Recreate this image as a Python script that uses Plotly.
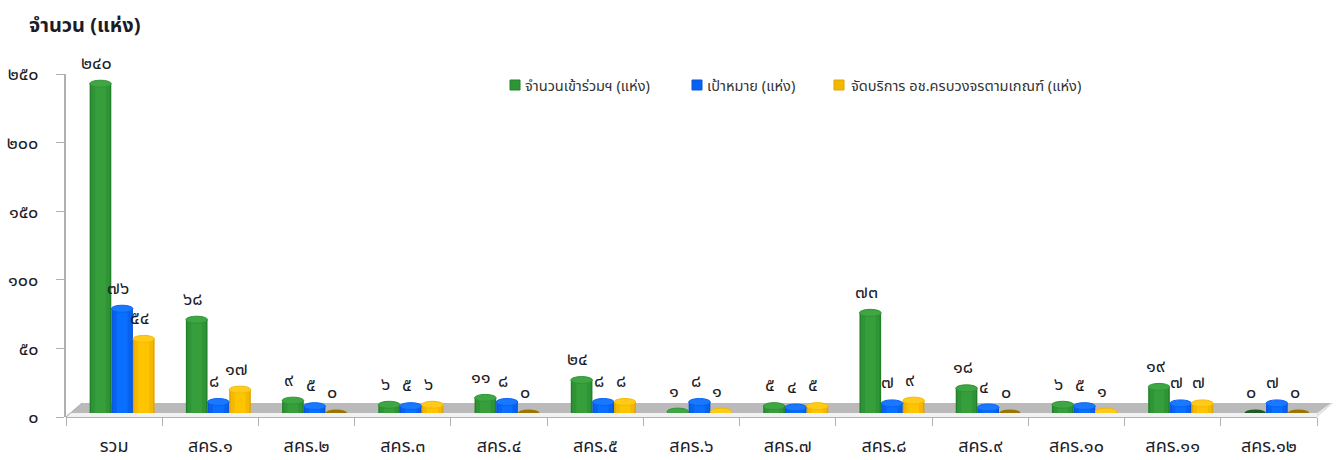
import plotly.graph_objects as go

categories = ["รวม", "สคร.๑", "สคร.๒", "สคร.๓", "สคร.๔", "สคร.๕", "สคร.๖",
              "สคร.๗", "สคร.๘", "สคร.๙", "สคร.๑๐", "สคร.๑๑", "สคร.๑๒"]
joined = [240, 68, 9, 6, 11, 24, 1, 5, 73, 18, 6, 19, 0]
target = [76, 8, 5, 5, 8, 8, 8, 4, 7, 4, 5, 7, 7]
served = [54, 17, 0, 6, 0, 8, 1, 5, 9, 0, 1, 7, 0]
names = ["จำนวนเข้าร่วมฯ (แห่ง)", "เป้าหมาย (แห่ง)", "จัดบริการ อช.ครบวงจรตามเกณฑ์ (แห่ง)"]
y_ticks = [0, 50, 100, 150, 200, 250]
y_labels = ["๐", "๕๐", "๑๐๐", "๑๕๐", "๒๐๐", "๒๕๐"]
thai_digits = "๐๑๒๓๔๕๖๗๘๙"

W, H = 1340, 460
FONT = "Noto Sans, Noto Sans Thai, Tahoma, DejaVu Sans, sans-serif"
TEXT = "#1c1c28"
palette = [
    {"edge": "#23802a", "mid": "#2f9435", "core": "#369e3a", "top": "#3fa644", "flat": "#1d5c22"},
    {"edge": "#0a55d8", "mid": "#0563f0", "core": "#0a6eff", "top": "#1a78ff", "flat": "#0a3f9e"},
    {"edge": "#e0a400", "mid": "#f5b800", "core": "#ffc400", "top": "#ffcb1a", "flat": "#9a7600"},
]
series = [joined, target, served]
BAR = 0.225  # category units
DX, DY = 8, 4  # depth offset in px
LEGEND_MARK = [510, 692, 834]
LEGEND_TEXT = [523, 705, 849]
LEGEND_Y = 85


def th(n):
    return "".join(thai_digits[int(c)] for c in str(n))


def px(x):
    return x / W


def py(y):
    return 1 - y / H


x_dom = [px(66), px(1317)]
y_dom = [py(417), py(74)]
x2_dom = [px(66 + DX), px(1317 + DX)]
y2_dom = [py(417 - DY), py(74 - DY)]

fig = go.Figure()
xs = list(range(len(categories)))
shapes = []
annotations = []

# axis carrier on the front plane
fig.add_trace(go.Scatter(x=categories, y=[0] * len(categories), mode="markers",
                         marker=dict(opacity=0), showlegend=False, hoverinfo="skip",
                         xaxis="x", yaxis="y"))

# floor of the 3D plot
floor = [
    ("M66,417 L1317,417 L1333,403 L82,403 Z", "#bababa"),
    ("M66,413 L1317,413 L1317,417 L66,417 Z", "#f2f2f2"),
    ("M1317,413 L1331,403 L1333,403 L1317,417 Z", "#e6e6e6"),
]
for path, col in floor:
    pts = path.replace("M", "").replace("Z", "").split("L")
    conv = []
    for p in pts:
        a, b = p.strip().split(",")
        conv.append(f"{px(float(a)):.5f},{py(float(b)):.5f}")
    shapes.append(dict(type="path", xref="paper", yref="paper", layer="below",
                       path="M" + " L".join(conv) + " Z", fillcolor=col, line_width=0))
shapes.append(dict(type="line", xref="paper", yref="paper", layer="below",
                   x0=px(66), x1=px(82), y0=py(417), y1=py(403),
                   line=dict(color="#a8a8a8", width=1)))
shapes.append(dict(type="line", xref="paper", yref="paper", layer="below",
                   x0=px(66), x1=px(1317), y0=py(417.5), y1=py(417.5),
                   line=dict(color="#b0b0b0", width=1)))

for s, vals in enumerate(series):
    center = (s - 1) * BAR
    pal = palette[s]
    for frac, key in [(1.0, "edge"), (0.86, "mid"), (0.5, "core")]:
        fig.add_trace(go.Bar(
            x=xs, y=vals, name=names[s], width=BAR * frac, offset=center - BAR * frac / 2,
            marker=dict(color=pal[key], line_width=0), showlegend=False, hoverinfo="skip",
            xaxis="x2", yaxis="y2"))
    for x, v in zip(xs, vals):
        shapes.append(dict(type="circle", xref="x2", yref="y2", layer="below",
                           x0=x + center - BAR / 2, x1=x + center + BAR / 2,
                           ysizemode="pixel", yanchor=0, y0=-3.5, y1=3.5,
                           fillcolor=pal["edge"] if v else pal["flat"], line_width=0))
        if v:
            shapes.append(dict(type="circle", xref="x2", yref="y2", layer="above",
                               x0=x + center - BAR / 2, x1=x + center + BAR / 2,
                               ysizemode="pixel", yanchor=v, y0=-3.5, y1=3.5,
                               fillcolor=pal["top"], line=dict(color=pal["mid"], width=1)))
        annotations.append(dict(x=x + center, y=v, xref="x2", yref="y2", text=th(v),
                                showarrow=False, xshift=-4, yshift=22,
                                font=dict(family=FONT, size=18, color=TEXT)))
    # legend key and text
    shapes.append(dict(type="rect", xref="paper", yref="paper", layer="above",
                       x0=px(LEGEND_MARK[s]), x1=px(LEGEND_MARK[s] + 10),
                       y0=py(LEGEND_Y + 5), y1=py(LEGEND_Y - 5),
                       fillcolor=pal["mid"], line=dict(color=pal["edge"], width=1)))
    annotations.append(dict(x=px(LEGEND_TEXT[s]), y=py(LEGEND_Y), xref="paper", yref="paper",
                            xanchor="left", yanchor="middle", text=names[s], showarrow=False,
                            font=dict(family=FONT, size=14.6, color="#333333")))

annotations.append(dict(x=px(27), y=py(24), xref="paper", yref="paper", xanchor="left",
                        yanchor="middle", text="<b>จำนวน (แห่ง)</b>", showarrow=False,
                        font=dict(family=FONT, size=20, color=TEXT)))

fig.update_layout(
    width=W, height=H, margin=dict(l=0, r=0, t=0, b=0),
    paper_bgcolor="white", plot_bgcolor="rgba(0,0,0,0)", showlegend=False,
    barmode="overlay", shapes=shapes, annotations=annotations,
    font=dict(family=FONT, color=TEXT),
    xaxis=dict(domain=x_dom, type="category", categoryorder="array", categoryarray=categories,
               range=[-0.5, 12.5],
               tickson="boundaries", ticks="outside", ticklen=8, tickcolor="#b0b0b0", tickwidth=1,
               showline=False, showgrid=False, zeroline=False, anchor="y", automargin=False,
               ticklabelstandoff=16, tickfont=dict(family=FONT, size=18, color=TEXT)),
    yaxis=dict(domain=y_dom, range=[0, 250], tickvals=y_ticks, ticktext=y_labels,
               ticks="outside", ticklen=8, tickcolor="#b0b0b0", tickwidth=1,
               showline=True, linecolor="#b0b0b0", linewidth=2, showgrid=False, zeroline=False,
               anchor="x", automargin=False, ticklabelstandoff=14,
               tickfont=dict(family=FONT, size=18, color=TEXT)),
    xaxis2=dict(domain=x2_dom, range=[-0.5, 12.5], visible=False, anchor="y2", fixedrange=True),
    yaxis2=dict(domain=y2_dom, range=[0, 250], visible=False, anchor="x2", fixedrange=True),
)

fig.write_html("out.html", config={"displayModeBar": False},
               post_script="document.body.style.margin='0';")
